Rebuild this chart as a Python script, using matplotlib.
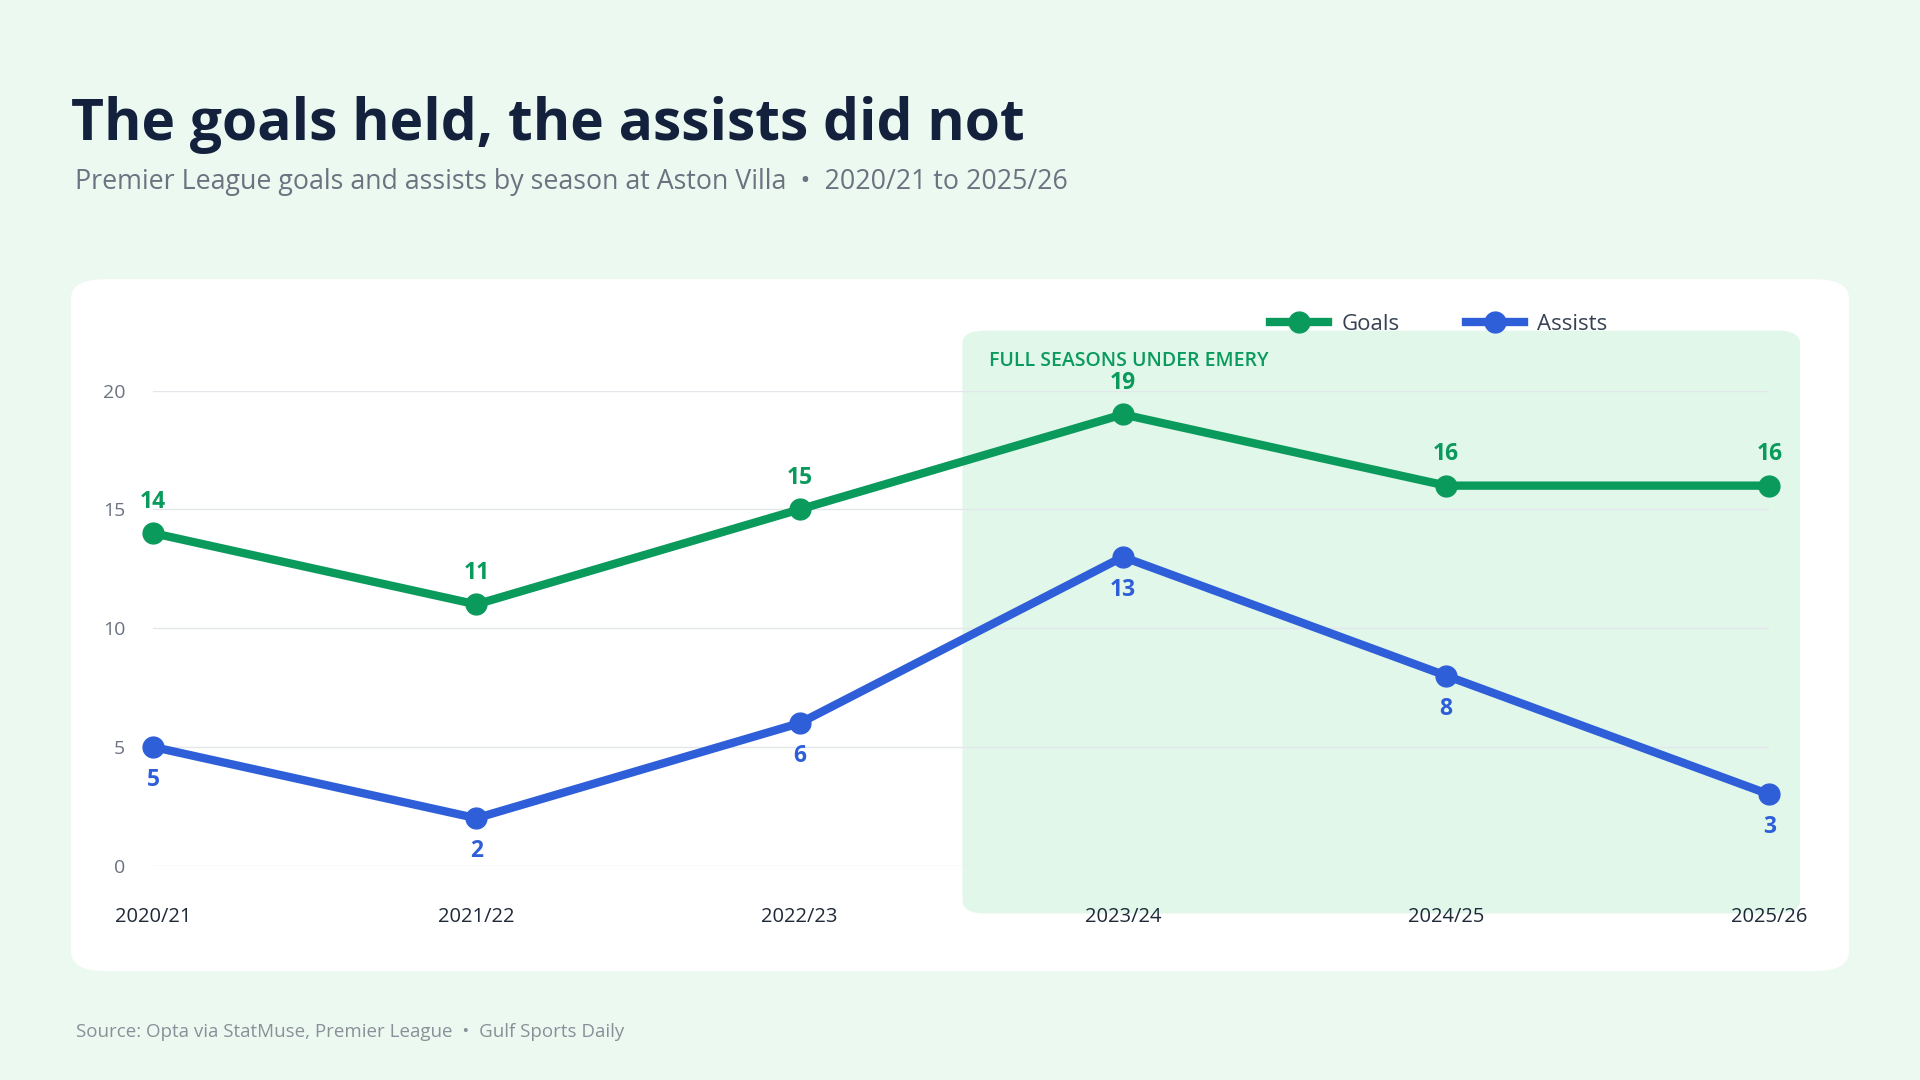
import matplotlib
matplotlib.use("Agg")
import matplotlib.pyplot as plt
from matplotlib.patches import FancyBboxPatch

seasons = ["2020/21", "2021/22", "2022/23", "2023/24", "2024/25", "2025/26"]
goals = [14, 11, 15, 19, 16, 16]
assists = [5, 2, 6, 13, 8, 3]
yticks = [0, 5, 10, 15, 20]

W, H = 1568, 882
def fx(x): return x / W
def fy(y): return 1 - y / H

plt.rcParams['font.family'] = ['Open Sans', 'DejaVu Sans']
fig = plt.figure(figsize=(19.2, 10.8), dpi=100)
fig.patch.set_facecolor('#ecf9f1')

card = FancyBboxPatch((fx(58), fy(793)), fx(1510) - fx(58), fy(228) - fy(793),
                      boxstyle="round,pad=0,rounding_size=0.018", transform=fig.transFigure,
                      facecolor='white', edgecolor='none', zorder=0)
fig.patches.append(card)
hl = FancyBboxPatch((fx(786), fy(746)), fx(1470) - fx(786), fy(270) - fy(746),
                    boxstyle="round,pad=0,rounding_size=0.012", transform=fig.transFigure,
                    facecolor='#e1f7ea', edgecolor='none', zorder=1)
fig.patches.append(hl)

fig.text(fx(58), fy(102), "The goals held, the assists did not", fontsize=41, fontweight='bold',
         color='#14213d', va='center')
fig.text(fx(61), fy(149), "Premier League goals and assists by season at Aston Villa  •  2020/21 to 2025/26",
         fontsize=19.3, color='#6b7280', va='center')
fig.text(fx(62), fy(843), "Source: Opta via StatMuse, Premier League  •  Gulf Sports Daily",
         fontsize=13.5, color='#8a8f98', va='center')
fig.text(fx(808), fy(295), "FULL SEASONS UNDER EMERY", fontsize=14, fontweight='semibold',
         color='#0a9a5c', va='center', zorder=5)

ax = fig.add_axes([fx(125), fy(707), fx(1445) - fx(125), fy(319) - fy(707)])
ax.set_facecolor('none')
ax.set_zorder(3)
ax.set_xlim(0, 5); ax.set_ylim(0, 20)
for s in ax.spines.values(): s.set_visible(False)
ax.set_yticks(yticks)
ax.grid(axis='y', color='#e3e6ea', lw=1)
ax.tick_params(length=0)
ax.set_yticklabels([str(t) for t in yticks], fontsize=14, color='#6b7280')
ax.tick_params(axis='y', pad=20)
x = list(range(len(seasons)))
ax.set_xticks(x)
ax.set_xticklabels(seasons, fontsize=14.5, color='#1f2937', fontweight='medium')
ax.tick_params(axis='x', pad=30)

g = '#0a9a5c'; b = '#2f5fd8'
ax.plot(x, goals, color=g, lw=6, marker='o', ms=15, clip_on=False, label='Goals', zorder=4)
ax.plot(x, assists, color=b, lw=6, marker='o', ms=15, clip_on=False, label='Assists', zorder=4)
for xi, v in zip(x, goals):
    ax.annotate(str(v), (xi, v), xytext=(0, 14), textcoords='offset points', ha='center',
                va='bottom', fontsize=16.5, fontweight='bold', color=g)
for xi, v in zip(x, assists):
    ax.annotate(str(v), (xi, v), xytext=(0, -15), textcoords='offset points', ha='center',
                va='top', fontsize=16.5, fontweight='bold', color=b)

leg = fig.legend(loc='center', bbox_to_anchor=(fx(1175), fy(265)), ncol=2, frameon=False,
                 fontsize=16, handlelength=2.6, columnspacing=3.0, handletextpad=0.6)
for t in leg.get_texts(): t.set_color('#374151')

fig.savefig('out.png', dpi=100, facecolor=fig.get_facecolor())
